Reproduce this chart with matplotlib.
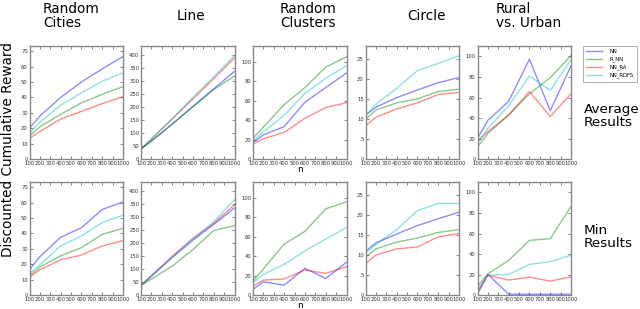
import numpy as np
import matplotlib
matplotlib.use("Agg")
import matplotlib.pyplot as plt

# problem sizes
n = [100, 200, 400, 600, 800, 1000]
methods = ['NN', 'R_NN', 'NN_RA', 'NN_RDFS']
colors = ['b', 'g', 'r', 'c']

titles = ['Random\nCities', 'Line', 'Random\nClusters', 'Circle', 'Rural\nvs. Urban']

# average results, one list per method (NN, R_NN, NN_RA, NN_RDFS)
avg_cities = [[20, 28, 40, 50, 58.5, 66.5],
              [15, 21, 29, 36.5, 42, 47],
              [13.5, 18, 26, 31, 36, 40.5],
              [17, 24, 35, 43, 50.5, 56]]
avg_line = [[40, 70, 135, 203, 271, 338],
            [40, 70, 135, 202, 268, 320],
            [40, 78, 155, 232, 310, 390],
            [40, 78, 156, 238, 318, 399]]
avg_clusters = [[17, 25, 33.5, 58.5, 73.5, 88.5],
                [21.5, 33, 56, 73.5, 94.5, 105],
                [15.5, 21, 27.5, 42, 53, 58],
                [19, 28, 45, 67.5, 83, 96]]
avg_circle = [[11, 12.9, 15.3, 17.2, 19, 20.3],
              [9.9, 12.2, 14, 15, 16.8, 17.4],
              [8.3, 10.4, 12.5, 14, 16.1, 16.6],
              [10.7, 13.7, 17.6, 22, 23.8, 25.7]]
avg_rural = [[20.3, 37.7, 56.4, 97.4, 47.2, 90.8],
             [12, 25, 43, 63.6, 79.3, 101],
             [17, 27, 43, 66, 41.6, 63.6],
             [17, 30, 52, 81, 67, 96.7]]

# min results
min_cities = [[16.5, 25, 37.5, 43.7, 55.5, 60.4],
              [12.6, 18.2, 25.5, 30.8, 39.4, 43.3],
              [11.6, 16.5, 22.9, 26, 31.9, 35.3],
              [14, 19.7, 32, 38.3, 47, 51.8]]
min_line = [[38, 73, 145, 212, 272, 336],
            [38, 62, 112, 176, 249, 268],
            [38, 75, 150, 220, 277, 348],
            [38, 74, 145, 215, 283, 368]]
min_clusters = [[5.9, 13.8, 10.3, 27.6, 17.2, 33.8],
                [14.5, 27, 52.4, 65.5, 88.6, 95.9],
                [9.3, 15.5, 16.6, 25.9, 22.4, 29.3],
                [12.8, 21.4, 31.7, 45.5, 57.6, 69.7]]
min_circle = [[10.9, 13, 15.2, 17.3, 19, 20.6],
              [9.5, 11.5, 13.2, 14.2, 15.6, 16.3],
              [7.8, 10, 11.5, 12, 14.5, 15.3],
              [10.5, 12.6, 16.3, 21, 22.8, 22.8]]
min_rural = [[1.3, 20.2, 1, 1, 1, 1],
             [8.8, 20.8, 33.9, 53.4, 55, 86.3],
             [3, 19.5, 14.7, 17.6, 13.7, 17.9],
             [5.5, 19.5, 20.2, 30, 32.6, 39]]

rows = [[avg_cities, avg_line, avg_clusters, avg_circle, avg_rural],
        [min_cities, min_line, min_clusters, min_circle, min_rural]]

ylims = [73.5, 437, 116.5, 28.2, 110.5]
ysteps = [10, 50, 20, 5, 20]
ytop = [70, 400, 100, 25, 100]

W, H = 640, 309
fig = plt.figure(figsize=(6.4, 3.09), dpi=100)

lefts = [29.5, 141, 253, 365.5, 477.5]
aw = 93.5
row_top = [45.7, 181.7]
ah = 113.5

handles = []
for r in range(2):
    for c in range(5):
        ax = fig.add_axes([lefts[c] / W, 1 - (row_top[r] + ah) / H, aw / W, ah / H])
        for k in range(4):
            ln, = ax.plot(n, rows[r][c][k], color=colors[k], alpha=0.45, lw=1.0, label=methods[k])
            if r == 0 and c == 0:
                handles.append(ln)
        ax.set_xlim(100, 1000)
        ax.set_ylim(0, ylims[c])
        ax.set_xticks(np.arange(100, 1001, 100))
        ax.set_yticks(np.arange(0, ytop[c] + 1, ysteps[c]))
        ax.tick_params(direction='in', top=True, right=True, length=2.5, width=0.5,
                       labelsize=3.8, labelcolor='#333333', color='#555555', pad=1.2)
        for s in ax.spines.values():
            s.set_color('#888888')
            s.set_linewidth(1.0)
        if c == 2:
            ax.set_xlabel('n', fontsize=6.5, labelpad=-0.5)

title_x = [43, 177, 280, 407, 496]
for c in range(5):
    fig.text(title_x[c] / W, 1 - 16 / H, titles[c], fontsize=9.8, ha='left', va='center',
             multialignment='left', linespacing=1.05)

fig.text(584 / W, 1 - 116 / H, 'Average\nResults', fontsize=9.7, ha='left', va='center',
         linespacing=1.05)
fig.text(584 / W, 1 - 237 / H, 'Min\nResults', fontsize=9.7, ha='left', va='center',
         linespacing=1.05)
fig.text(8 / W, 1 - 150 / H, 'Discounted Cumulative Reward', fontsize=9.8, rotation=90,
         ha='center', va='center')

leg = fig.legend(handles=handles, loc='upper left', bbox_to_anchor=(583 / W, 1 - 46 / H),
                 fontsize=3.8, frameon=True, fancybox=False, handlelength=3.0,
                 borderpad=0.6, labelspacing=0.45, handletextpad=1.4, borderaxespad=0)
leg.get_frame().set_edgecolor('#888888')
leg.get_frame().set_linewidth(0.6)

fig.savefig('out.png', dpi=100)
